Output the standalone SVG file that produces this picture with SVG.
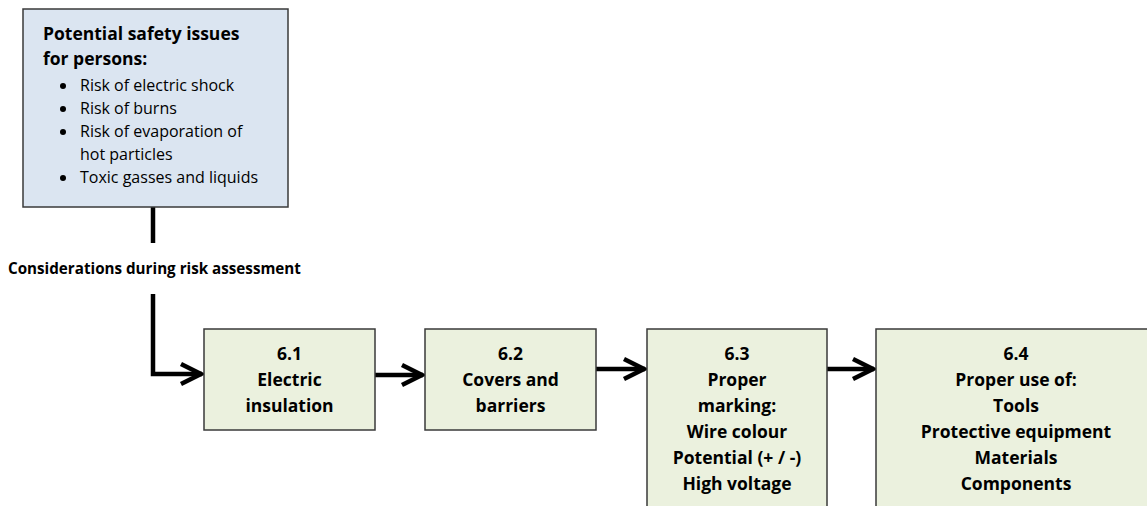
<svg xmlns="http://www.w3.org/2000/svg" width="1147" height="506" viewBox="0 0 1147 506">
  <style>
    .box { stroke: #3a3a3a; stroke-width: 1.5; }
    .blue { fill: #dbe5f1; }
    .green { fill: #ebf1de; }
    .t { font-family: "Open Sans", "Liberation Sans", sans-serif; fill: #000; }
    .b { font-weight: bold; font-size: 17.5px; }
    .n { font-size: 16px; }
    .c { text-anchor: middle; }
    .conn { stroke: #000; stroke-width: 4.5; fill: none; stroke-linejoin: miter; }
  </style>
  <defs>
    <marker id="arrow" markerUnits="userSpaceOnUse" viewBox="-24 -13 27 26" refX="0" refY="0" markerWidth="27" markerHeight="26" orient="auto" overflow="visible">
      <path d="M-21,-10 L-1,0 L-21,10" fill="none" stroke="#000" stroke-width="4.5" stroke-linejoin="miter"/>
    </marker>
  </defs>
  <rect width="1147" height="506" fill="#fff"/>

  <g id="connectors">
    <line class="conn" x1="153" y1="207" x2="153" y2="243"/>
    <polyline class="conn" points="153,294 153,374 202,374" marker-end="url(#arrow)"/>
    <line class="conn" x1="375" y1="375" x2="423" y2="375" marker-end="url(#arrow)"/>
    <line class="conn" x1="596" y1="369" x2="645" y2="369" marker-end="url(#arrow)"/>
    <line class="conn" x1="827" y1="369" x2="874" y2="369" marker-end="url(#arrow)"/>
  </g>

  <g id="label-considerations">
    <text class="t b" x="8" y="274" style="font-size:15.2px">Considerations during risk assessment</text>
  </g>

  <g id="node-issues">
    <rect class="box blue" x="23" y="9" width="265" height="198"/>
    <text class="t b" x="43" y="40">Potential safety issues</text>
    <text class="t b" x="43" y="65">for persons:</text>
    <g class="t n">
      <circle cx="63" cy="86" r="3"/>
      <text x="80" y="91">Risk of electric shock</text>
      <circle cx="63" cy="109" r="3"/>
      <text x="80" y="114">Risk of burns</text>
      <circle cx="63" cy="132" r="3"/>
      <text x="80" y="137">Risk of evaporation of</text>
      <text x="80" y="160">hot particles</text>
      <circle cx="63" cy="178" r="3"/>
      <text x="80" y="183">Toxic gasses and liquids</text>
    </g>
  </g>

  <g id="node-6-1">
    <rect class="box green" x="204" y="329" width="171" height="101"/>
    <text class="t b c" x="289.5" y="360">6.1</text>
    <text class="t b c" x="289.5" y="386">Electric</text>
    <text class="t b c" x="289.5" y="412">insulation</text>
  </g>

  <g id="node-6-2">
    <rect class="box green" x="425" y="329" width="171" height="101"/>
    <text class="t b c" x="510.5" y="360">6.2</text>
    <text class="t b c" x="510.5" y="386">Covers and</text>
    <text class="t b c" x="510.5" y="412">barriers</text>
  </g>

  <g id="node-6-3">
    <rect class="box green" x="647" y="329" width="180" height="190"/>
    <text class="t b c" x="737" y="360">6.3</text>
    <text class="t b c" x="737" y="386">Proper</text>
    <text class="t b c" x="737" y="412">marking:</text>
    <text class="t b c" x="737" y="438">Wire colour</text>
    <text class="t b c" x="737" y="464">Potential (+ / -)</text>
    <text class="t b c" x="737" y="490">High voltage</text>
  </g>

  <g id="node-6-4">
    <rect class="box green" x="876" y="329" width="290" height="190"/>
    <text class="t b c" x="1016" y="360">6.4</text>
    <text class="t b c" x="1016" y="386">Proper use of:</text>
    <text class="t b c" x="1016" y="412">Tools</text>
    <text class="t b c" x="1016" y="438">Protective equipment</text>
    <text class="t b c" x="1016" y="464">Materials</text>
    <text class="t b c" x="1016" y="490">Components</text>
  </g>
</svg>
